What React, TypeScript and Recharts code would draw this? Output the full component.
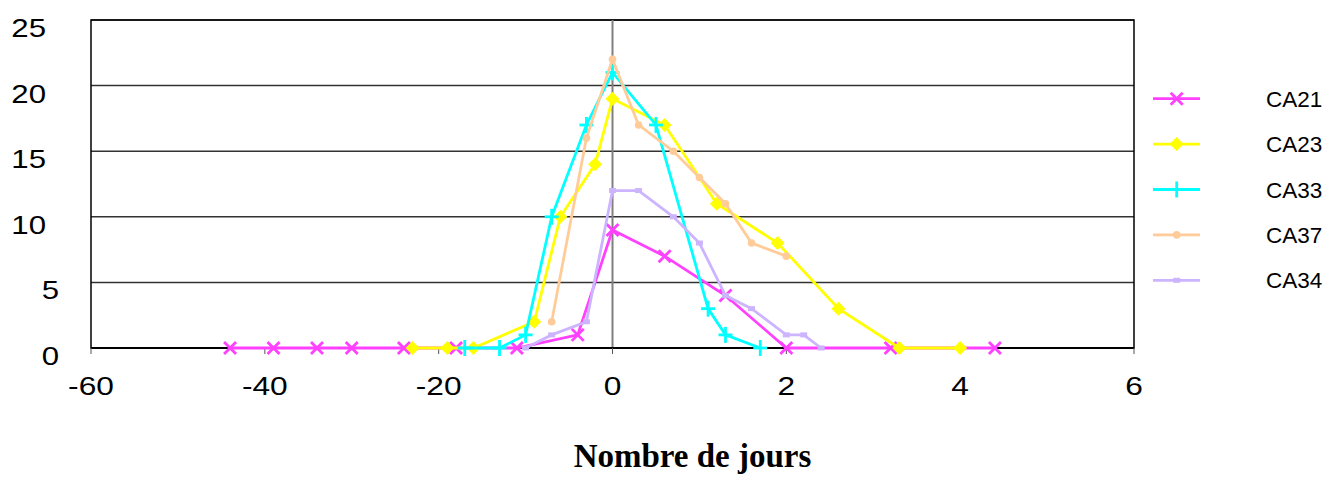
import { ScatterChart, Scatter, XAxis, YAxis, CartesianGrid, ReferenceLine, ReferenceArea, Legend } from 'recharts';

// x ticks drawn on a linear -60..60 scale, labels as printed on the original
const xTicks = [-60, -40, -20, 0, 20, 40, 60];
const xTickLabels = ['-60', '-40', '-20', '0', '2', '4', '6'];
const yTicks = [0, 5, 10, 15, 20, 25];

const ca21X = [-44, -39, -34, -30, -24, -18, -11, -4, 0, 6, 13, 20, 32, 44];
const ca21Y = [0, 0, 0, 0, 0, 0, 0, 1, 9, 7, 4, 0, 0, 0];

const ca23X = [-23, -19, -16, -9, -6, -2, 0, 6, 12, 19, 26, 33, 40];
const ca23Y = [0, 0, 0, 2, 10, 14, 19, 17, 11, 8, 3, 0, 0];

const ca33X = [-17, -13, -10, -7, -3, 0, 5, 11, 13, 17];
const ca33Y = [0, 0, 1, 10, 17, 21, 17, 3, 1, 0];

const ca37X = [-7, -3, 0, 3, 7, 10, 13, 16, 20];
const ca37Y = [2, 16, 22, 17, 15, 13, 11, 8, 7];

const ca34X = [-10, -7, -3, 0, 3, 7, 10, 13, 16, 20, 22, 24];
const ca34Y = [0, 1, 2, 12, 12, 10, 8, 4, 3, 1, 1, 0];

const zip = (xs: number[], ys: number[]) => xs.map((x, i) => ({ x, y: ys[i] }));

type Kind = 'x' | 'diamond' | 'plus' | 'circle' | 'square';

const series: { name: string; color: string; kind: Kind; data: { x: number; y: number }[] }[] = [
  { name: 'CA21', color: '#FF40FF', kind: 'x', data: zip(ca21X, ca21Y) },
  { name: 'CA23', color: '#FFFF00', kind: 'diamond', data: zip(ca23X, ca23Y) },
  { name: 'CA33', color: '#00FFFF', kind: 'plus', data: zip(ca33X, ca33Y) },
  { name: 'CA37', color: '#FFCC99', kind: 'circle', data: zip(ca37X, ca37Y) },
  { name: 'CA34', color: '#CDB4FF', kind: 'square', data: zip(ca34X, ca34Y) },
];

const Marker = ({ kind, cx, cy, color }: { kind: Kind; cx: number; cy: number; color: string }) => {
  if (cx == null || cy == null) return null;
  switch (kind) {
    case 'x':
      return (
        <g stroke={color} strokeWidth={2.8}>
          <line x1={cx - 6} y1={cy - 6} x2={cx + 6} y2={cy + 6} />
          <line x1={cx - 6} y1={cy + 6} x2={cx + 6} y2={cy - 6} />
        </g>
      );
    case 'diamond':
      return <polygon points={`${cx},${cy - 7} ${cx + 7},${cy} ${cx},${cy + 7} ${cx - 7},${cy}`} fill={color} />;
    case 'plus':
      return (
        <g stroke={color} strokeWidth={2.8}>
          <line x1={cx - 7} y1={cy} x2={cx + 7} y2={cy} />
          <line x1={cx} y1={cy - 8} x2={cx} y2={cy + 8} />
        </g>
      );
    case 'circle':
      return <circle cx={cx} cy={cy} r={3.8} fill={color} />;
    default:
      return <rect x={cx - 3.5} y={cy - 2.5} width={7} height={5} fill={color} />;
  }
};

const XTick = ({ x, y, payload }: any) => {
  const label = xTickLabels[xTicks.indexOf(payload.value)];
  return (
    <g transform={`translate(${x},${y})`}>
      <text x={0} y={0} dy={39} textAnchor="middle" fontSize={26} fill="#000"
        fontFamily="'Liberation Sans', Arial, sans-serif" transform="scale(1.22,1)">
        {label}
      </text>
    </g>
  );
};

const YTick = ({ y, payload }: any) => {
  const label = String(payload.value);
  const right = label.length > 1 ? 46 : 59;
  return (
    <g transform={`translate(${right},${y})`}>
      <text x={0} y={0} dy={17} textAnchor="end" fontSize={26} fill="#000"
        fontFamily="'Liberation Sans', Arial, sans-serif" transform="scale(1.2,1)">
        {label}
      </text>
    </g>
  );
};

const AxisTitle = ({ viewBox }: any) => (
  <text x={viewBox.x + viewBox.width / 2 + 80} y={467} textAnchor="middle" fontSize={33} fontWeight="bold"
    fontFamily="'Liberation Serif', 'Times New Roman', serif" fill="#000">
    Nombre de jours
  </text>
);

const renderLegend = () => (
  <svg width={180} height={230}>
    {series.map((s, i) => {
      const cy = 22.7 + i * 45.4;
      return (
        <g key={s.name}>
          <line x1={3} y1={cy} x2={50} y2={cy} stroke={s.color} strokeWidth={2.8} />
          <Marker kind={s.kind} cx={26.7} cy={cy} color={s.color} />
          <text x={116} y={cy + 8} fontSize={22.5} fill="#000" fontFamily="'Liberation Sans', Arial, sans-serif">
            {s.name}
          </text>
        </g>
      );
    })}
  </svg>
);

const App = () => {
  return (
    <div style={{ position: 'absolute', left: 0, top: 0, background: '#fff' }}>
      <ScatterChart width={1330} height={477} margin={{ top: 20, right: 16, left: 0, bottom: 69 }}>
        <CartesianGrid horizontal vertical={false} stroke="#333" strokeWidth={1.5} />
        <ReferenceArea x1={-60} x2={60} y1={0} y2={25} fill="none" stroke="#000" strokeWidth={1.5} />
        <ReferenceLine x={0} stroke="#808080" strokeWidth={2} />
        <XAxis
          type="number"
          dataKey="x"
          domain={[-60, 60]}
          ticks={xTicks}
          interval={0}
          allowDataOverflow
          height={60}
          axisLine={{ stroke: '#000', strokeWidth: 2 }}
          tickLine={{ stroke: '#555' }}
          tickSize={6}
          tick={<XTick />}
          label={<AxisTitle />}
        />
        <YAxis
          type="number"
          dataKey="y"
          domain={[0, 25]}
          ticks={yTicks}
          interval={0}
          width={91}
          axisLine={false}
          tickLine={false}
          tick={<YTick />}
        />
        <Legend
          layout="vertical"
          align="right"
          verticalAlign="top"
          content={renderLegend}
          wrapperStyle={{ position: 'absolute', left: 1150, top: 75.6, width: 180 }}
        />
        {series.map((s) => (
          <Scatter
            key={s.name}
            name={s.name}
            data={s.data}
            fill={s.color}
            line={{ stroke: s.color, strokeWidth: 2.8 }}
            lineType="joint"
            isAnimationActive={false}
            shape={(p: any) => <Marker kind={s.kind} cx={p.cx} cy={p.cy} color={s.color} />}
          />
        ))}
      </ScatterChart>
    </div>
  );
};

export default App;
